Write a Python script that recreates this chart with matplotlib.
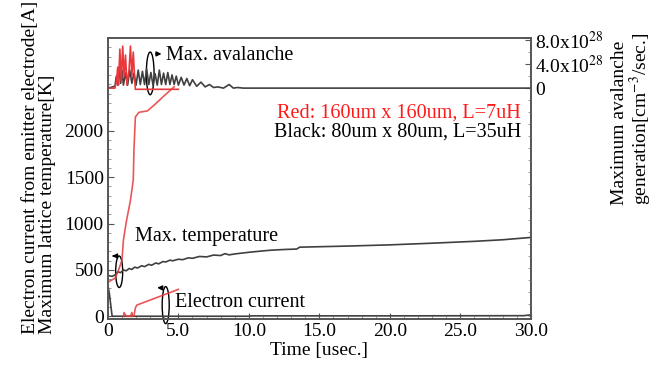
import matplotlib
matplotlib.use("Agg")
import matplotlib.pyplot as plt
from matplotlib.patches import Ellipse
from matplotlib.ticker import MultipleLocator

plt.rcParams['font.family'] = ['Liberation Serif', 'DejaVu Serif']
plt.rcParams['mathtext.fontset'] = 'stix'

# ---- data ----
# maximum lattice temperature [K]
t_temp_blk = [0, 0.3, 0.5, 0.7, 0.9, 1.1, 1.3, 1.5, 1.7, 1.9, 2.1, 2.4, 2.6, 2.9, 3.1, 3.4, 3.6,
              3.9, 4.1, 4.4, 4.6, 5.0, 5.3, 5.7, 6.0, 6.5, 7.0, 7.5, 8.0, 8.3, 8.6, 9.0, 10, 11,
              11.6, 12.5, 13.4, 13.6, 15, 17, 20, 23, 26, 28, 30]
temp_blk = [440, 430, 445, 480, 470, 500, 490, 515, 505, 530, 520, 545, 535, 560, 550, 575, 565,
            590, 585, 605, 598, 615, 610, 630, 625, 645, 640, 660, 655, 675, 662, 672, 690, 705,
            713, 720, 725, 745, 750, 757, 770, 788, 808, 825, 850]
t_temp_red = [0, 0.5, 0.7, 1.0, 1.1, 1.3, 1.6, 1.8, 1.85, 1.95, 2.2, 2.8, 3.3, 4.0, 4.7]
temp_red = [367, 410, 475, 605, 820, 1015, 1250, 1470, 1800, 2150, 2200, 2215, 2280, 2380, 2475]

# electron current from emitter electrode [A]
t_cur_blk = [0, 0.1, 0.3, 5, 10, 10.2, 20, 29.5, 30]
cur_blk = [330, 250, 0, 0, 0, 4, 4, 6, 15]
t_cur_red = [1.1, 1.15, 1.3, 1.6, 1.7, 1.75, 1.85, 1.95, 2.05, 5.0]
cur_red = [0, 40, 0, 0, 40, 0, 5, 90, 120, 290]

# maximum avalanche generation [1e28 cm^-3/sec]
t_aval_blk = [0, 0.5, 0.6, 0.7, 0.8, 0.9, 1.0, 1.1, 1.25, 1.4, 1.55, 1.7, 1.85, 2.0, 2.15, 2.3,
              2.45, 2.6, 2.75, 2.9, 3.05, 3.2, 3.35, 3.5, 3.65, 3.8, 3.95, 4.1, 4.25, 4.4, 4.55,
              4.7, 4.85, 5.0, 5.2, 5.4, 5.6, 5.8, 6.0, 6.3, 6.6, 6.9, 7.2, 7.5, 7.8, 8.2, 8.6,
              8.9, 9.2, 9.6, 10, 30]
aval_blk = [0, 0.3, 2.0, 0.5, 3.5, 0.8, 3.0, 0.5, 2.5, 0.5, 3.0, 0.8, 2.5, 0.5, 3.0, 0.6,
            2.8, 0.6, 3.2, 0.6, 2.6, 0.5, 2.4, 0.5, 3.0, 0.6, 2.5, 0.6, 2.6, 0.6, 2.2,
            0.6, 2.0, 0.5, 1.8, 0.5, 1.6, 0.4, 1.4, 0.3, 1.0, 0.2, 0.6, 0.1, 0.2, 0.0, 0.6,
            0.0, 0.1, 0.0, 0.0, 0.0]
t_aval_red = [0, 0.5, 0.6, 0.7, 0.75, 0.85, 0.95, 1.05, 1.15, 1.25, 1.35, 1.5, 1.6, 1.7, 1.8,
              1.9, 1.95, 5.0]
aval_red = [0, 0, 1.0, 3.5, 0.5, 6.5, 1.0, 7.0, 2.0, 5.5, 0.5, 3.0, 7.0, 2.0, 6.0, 1.5, -0.2, -0.2]
E28 = 1e28

xticks = [0, 5, 10, 15, 20, 25, 30]
xticklabels = ["0", "5.0", "10.0", "15.0", "20.0", "25.0", "30.0"]

BLK = '#404040'
RED = '#e8383c'
FS = 14
FA = 14.5

fig = plt.figure(figsize=(6.66, 3.74), dpi=100)
ax = fig.add_axes([0.162, 0.147, 0.635, 0.751])
ax2 = ax.twinx()

ax.plot(t_temp_blk, temp_blk, color=BLK, lw=1.2)
ax.plot(t_temp_red, temp_red, color=RED, lw=1.2, alpha=0.85)
ax.plot(t_cur_blk, cur_blk, color=BLK, lw=1.2)
ax.plot(t_cur_red, cur_red, color=RED, lw=1.2, alpha=0.85)
ax2.plot(t_aval_blk, [v * E28 for v in aval_blk], color=BLK, lw=1.2)
ax2.plot(t_aval_red, [v * E28 for v in aval_red], color=RED, lw=1.2)

ax.set_xlim(0, 30)
ax.set_ylim(-30, 3000)
ax2.set_ylim(-38.5 * E28, 8.33 * E28)

ax.set_xticks(xticks)
ax.set_xticklabels(xticklabels)
ax.set_yticks([0, 500, 1000, 1500, 2000])
ax.xaxis.set_minor_locator(MultipleLocator(1))
ax.yaxis.set_minor_locator(MultipleLocator(100))
ax2.set_yticks([0, 4 * E28, 8 * E28])
ax2.set_yticklabels(["0", "4.0x10$^{28}$", "8.0x10$^{28}$"])
ax2.yaxis.set_minor_locator(MultipleLocator(2 * E28))

for a in (ax, ax2):
    a.tick_params(direction='in', labelsize=FS, colors='#555555', labelcolor='black',
                  length=4, pad=3)
    a.tick_params(which='minor', direction='in', length=2, colors='#888888')
    for s in a.spines.values():
        s.set_color('#555555')
        s.set_linewidth(1.2)
ax.tick_params(top=False, right=False)
ax.tick_params(which='minor', top=False, right=False)

ax.set_xlabel("Time [usec.]", fontsize=FS, labelpad=1)

fig.text(0.058, 0.108, "Electron current from emitter electrode[A]\nMaximum lattice temperature[K]",
         rotation=90, ha='center', va='bottom', multialignment='left', fontsize=FS,
         linespacing=1.0)
fig.text(0.95, 0.452, "Maximum avalanche\ngeneration[cm$^{-3}$/sec.]",
         rotation=90, ha='center', va='bottom', multialignment='left', fontsize=FS,
         linespacing=1.0)

ax.text(29.3, 2195, "Red: 160um x 160um, L=7uH", color='#ff1a1a', fontsize=FA,
        ha='right', va='center')
ax.text(29.3, 1990, "Black: 80um x 80um, L=35uH", color='black', fontsize=FA,
        ha='right', va='center')

# annotation ellipses with arrows
ax.add_patch(Ellipse((3.0, 2620), 0.55, 460, fill=False, ec='black', lw=1.0))
ax.annotate("", xy=(4.0, 2830), xytext=(3.2, 2830),
            arrowprops=dict(arrowstyle='-|>', color='black', lw=1.0, mutation_scale=7))
ax.text(4.1, 2810, "Max. avalanche", fontsize=FA, va='center', ha='left')

ax.add_patch(Ellipse((0.8, 480), 0.5, 340, fill=False, ec='black', lw=1.0))
ax.annotate("", xy=(0.1, 650), xytext=(0.65, 650),
            arrowprops=dict(arrowstyle='-|>', color='black', lw=1.0, mutation_scale=7))
ax.text(1.9, 865, "Max. temperature", fontsize=FA, va='center', ha='left')

ax.add_patch(Ellipse((4.1, 120), 0.5, 400, fill=False, ec='black', lw=1.0, clip_on=False))
ax.annotate("", xy=(3.3, 310), xytext=(3.95, 305),
            arrowprops=dict(arrowstyle='-|>', color='black', lw=1.0, mutation_scale=7))
ax.text(4.75, 150, "Electron current", fontsize=FA, va='center', ha='left')

fig.savefig("out.png", dpi=100)
